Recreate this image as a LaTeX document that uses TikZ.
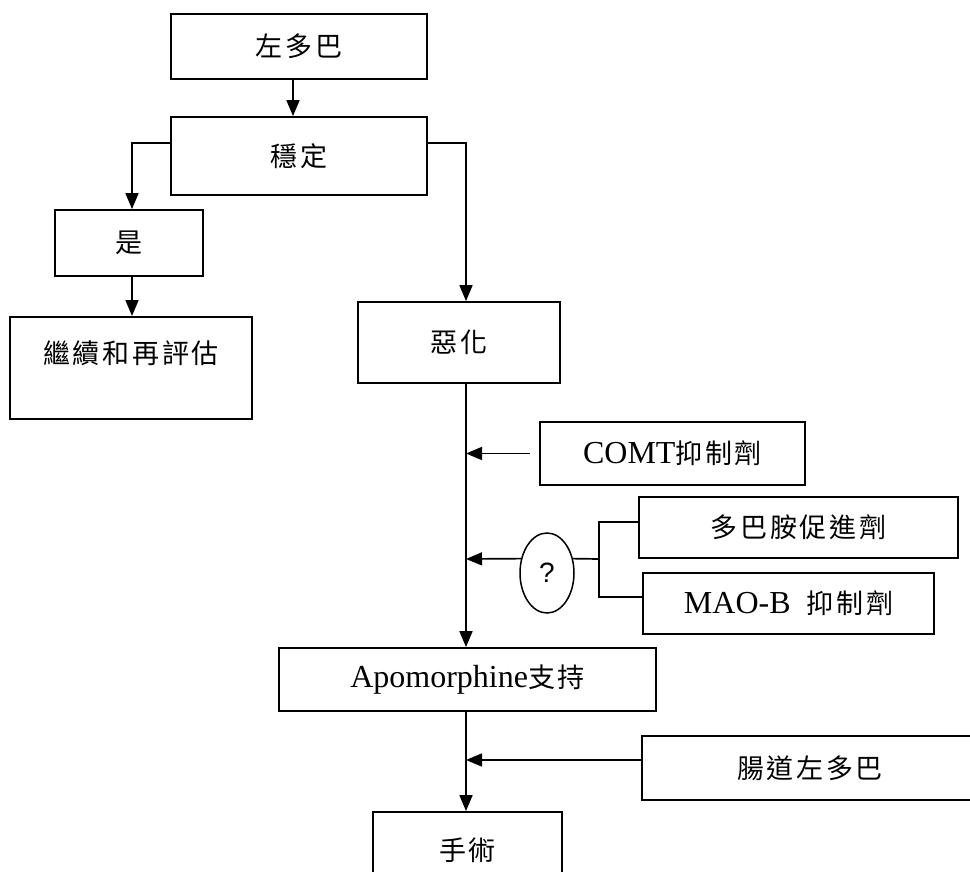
\documentclass[tikz,border=0pt]{standalone}
\usepackage{fontspec}
\setmainfont{Liberation Serif}
\newfontfamily\cjkfam[LetterSpace=10]{Noto Sans CJK TC}
\newfontfamily\qfam{Liberation Sans}
\usetikzlibrary{arrows.meta,shapes.geometric}
\newcommand{\zhtxt}[1]{{\cjkfam\fontsize{27}{32}\selectfont #1}}
\begin{document}
\begin{tikzpicture}[x=1pt,y=-1pt,
  box/.style={draw,line width=1.8pt,rectangle,inner sep=0pt,font=\fontsize{32}{36}\selectfont},
  arr/.style={line width=1.7pt,-{Triangle[length=16pt,width=13pt]}},
  ln/.style={line width=1.7pt}]
\useasboundingbox (0,0) rectangle (970,872);
\clip (0,0) rectangle (970,872);
% boxes
\node[box,minimum width=256pt,minimum height=65pt] (ldb) at (299,46.5) {\zhtxt{左多巴}};
\node[box,minimum width=256pt,minimum height=78pt] (wd) at (299,156) {\zhtxt{穩定}};
\node[box,minimum width=148pt,minimum height=66pt] (yes) at (129,243) {\zhtxt{是}};
\node[box,minimum width=242pt,anchor=north,text height=47pt,text depth=55pt] (cont) at (131,316) {\zhtxt{繼續和再評估}};
\node[box,minimum width=202pt,minimum height=81pt] (bad) at (459,342.5) {\zhtxt{惡化}};
\node[box,minimum width=265pt,minimum height=63pt] (comt) at (672.5,453.5) {COMT\zhtxt{抑制劑}};
\node[box,minimum width=319pt,minimum height=61pt] (dpa) at (798.5,527.5) {\zhtxt{多巴胺促進劑}};
\node[box,minimum width=291pt,minimum height=61pt] (maob) at (788.5,603.5) {MAO-B\hspace{16pt}\zhtxt{抑制劑}};
\node[draw,ellipse,line width=1.5pt,inner sep=0pt,minimum width=54pt,minimum height=80pt,font=\qfam\fontsize{28}{32}\selectfont] (q) at (547,573) {\raisebox{-5pt}{?}};
\node[box,minimum width=377pt,minimum height=63pt] (apo) at (467.5,679.5) {Apomorphine\zhtxt{支持}};
\node[box,minimum width=336pt,minimum height=64pt] (intl) at (810,768) {\zhtxt{腸道左多巴}};
\node[box,minimum width=189pt,minimum height=76pt] (sur) at (467.5,850) {\zhtxt{手術}};
% helper coordinates
\coordinate (ax) at (293,0);
\coordinate (lx) at (132,0);
\coordinate (mx) at (466,0);
\coordinate (ly) at (0,143);
\coordinate (b1) at (599,522);
\coordinate (b2) at (599,597);
\coordinate (b3) at (599,559);
\coordinate (iy) at (0,760);
% connectors
\draw[arr] (ldb.south -| ax) -- (wd.north -| ax);
\draw[arr] (wd.west |- ly) -| (yes.north -| lx);
\draw[arr] (yes.south -| lx) -- (cont.north -| lx);
\draw[arr] (wd.east |- ly) -| (bad.north -| mx);
\draw[arr] (bad.south -| mx) -- (apo.north -| mx);
\draw[arr] ([xshift=-9pt]comt.west) -- (comt.west -| mx);
\draw[ln] (dpa.west |- b1) -- (b1) -- (b2) -- (maob.west |- b2);
\draw[ln] (b3) -- (q.29);
\draw[arr] (q.151) -- (mx |- b3);
\draw[arr] (apo.south -| mx) -- (sur.north -| mx);
\draw[arr] (intl.west |- iy) -- (mx |- iy);
\end{tikzpicture}
\end{document}
